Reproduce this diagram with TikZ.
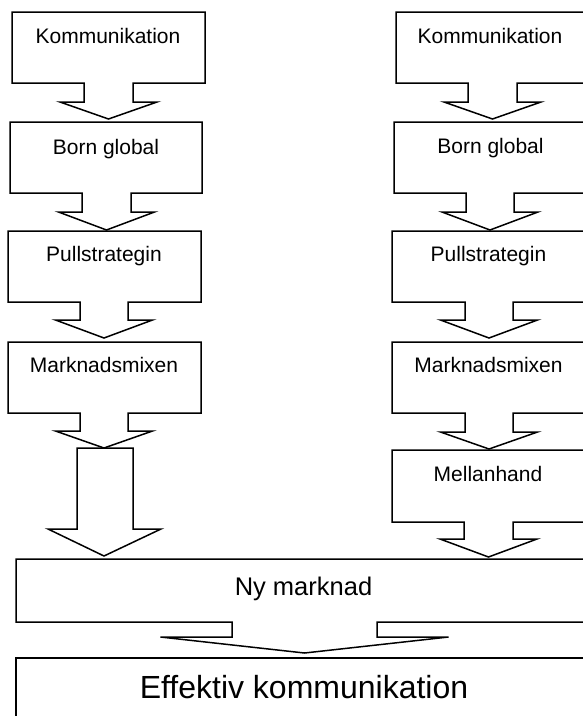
\documentclass[tikz,border=0pt]{standalone}
\usepackage{fontspec}
\setmainfont{Liberation Sans}
\newcommand\mkcallout[9]{\draw[boxline] (#1,#3) -- (#2,#3) -- (#2,#4) -- ({#5+#6},#4) -- ({#5+#6},#8) -- ({#5+#7},#8) -- (#5,#9) -- ({#5-#7},#8) -- ({#5-#6},#8) -- ({#5-#6},#4) -- (#1,#4) -- cycle;}
\tikzset{
  boxline/.style={draw=black, line width=1.5pt, line join=miter},
  lbl/.style={inner sep=0pt, anchor=base, font=\fontsize{21}{25}\selectfont},
  midlbl/.style={inner sep=0pt, anchor=base, font=\fontsize{25.5}{30}\selectfont},
  biglbl/.style={inner sep=0pt, anchor=base, font=\fontsize{32}{38}\selectfont},
}
\begin{document}
\begin{tikzpicture}[x=1pt,y=-1pt]
\useasboundingbox (0,0) rectangle (583,716);
\fill[white] (0,0) rectangle (583,716);
\clip (0,0) rectangle (583,716);
% left column
\mkcallout{12}{205}{12}{83}{108.5}{24.5}{48.5}{102}{119}
\mkcallout{10}{202}{122}{193}{106.5}{24.5}{48}{212}{230}
\mkcallout{8}{201}{231}{302}{104}{24}{48.5}{320}{338}
\mkcallout{8}{201}{342}{413}{104}{24}{48.5}{431}{448}
\draw[boxline] (77,448) -- (133,448) -- (133,529) -- (161,529) -- (104,556) -- (48,529) -- (77,529) -- cycle;
% right column
\mkcallout{396}{600}{12}{83}{492.5}{24.5}{48.5}{102}{119}
\mkcallout{394}{600}{122}{193}{490}{24}{48}{212}{230}
\mkcallout{392}{600}{231}{302}{489}{24}{48.5}{320}{338}
\mkcallout{392}{600}{342}{413}{489}{24}{48.5}{432}{449}
\mkcallout{392}{600}{450}{522}{488.5}{24.5}{48.5}{539}{557}
% bottom
\mkcallout{16}{600}{559}{622}{304.5}{72.5}{144}{637}{653}
\draw[boxline] (16,730) -- (16,658) -- (600,658);
% labels
\node[lbl] (lk) at (108,43) {Kommunikation};
\node[lbl] (lb) at (106,154) {Born global};
\node[lbl] (lp) at (104,261) {Pullstrategin};
\node[lbl] (lm) at (104,372) {Marknadsmixen};
\node[lbl] (rk) at (490,43) {Kommunikation};
\node[lbl] (rb) at (490.5,153) {Born global};
\node[lbl] (rp) at (488.5,261) {Pullstrategin};
\node[lbl] (rm) at (488.5,372) {Marknadsmixen};
\node[lbl] (rh) at (488,481) {Mellanhand};
\node[midlbl] (ny) at (303.5,595) {Ny marknad};
\node[biglbl] (ek) at (304,698) {Effektiv kommunikation};
\end{tikzpicture}
\end{document}
